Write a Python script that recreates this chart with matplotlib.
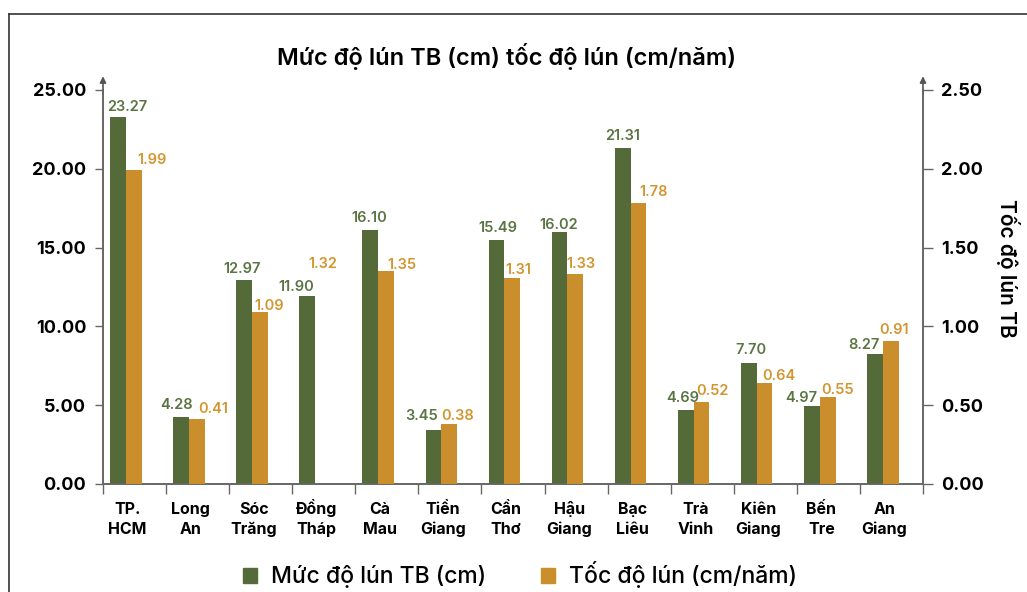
import numpy as np
import matplotlib
matplotlib.use('Agg')
import matplotlib.pyplot as plt
import matplotlib.transforms as mtransforms
from matplotlib.lines import Line2D
from matplotlib.patches import Patch

plt.rcParams['font.family'] = ['Inter', 'DejaVu Sans']

# data
provinces = ['TP.\nHCM', 'Long\nAn', 'Sóc\nTrăng', 'Đồng\nTháp', 'Cà\nMau', 'Tiền\nGiang',
             'Cần\nThơ', 'Hậu\nGiang', 'Bạc\nLiêu', 'Trà\nVinh', 'Kiên\nGiang', 'Bến\nTre',
             'An\nGiang']
depth_cm = [23.27, 4.28, 12.97, 11.90, 16.10, 3.45, 15.49, 16.02, 21.31, 4.69, 7.70, 4.97, 8.27]
rate_cm_year = [1.99, 0.41, 1.09, 1.32, 1.35, 0.38, 1.31, 1.33, 1.78, 0.52, 0.64, 0.55, 0.91]
rate_bar_hidden = ['Đồng\nTháp']  # no bar drawn in the original, only its label

left_ticks = [0, 5, 10, 15, 20, 25]
right_ticks = [0, 0.5, 1.0, 1.5, 2.0, 2.5]

# label nudges in pixels (dx, dy) - labels were hand placed in the original
depth_dx = [9, -5, -2, -11, -1, -12, 1, -1, 0, -3, 2, -11, -11]
depth_dy = [10, 12, 11, 9, 12, 14, 12, 7, 12, 12, 13, 8, 9]
rate_dx = [18, 16, 9, 0, 16, 8, 6, 6, 15, 11, 14, 10, 3]
rate_dy = [10, 10, 6, 12, 6, 8, 8, 10, 11, 11, 7, 7, 11]

green = '#546b39'
orange = '#cb8e2c'
green_txt = '#5b7443'
orange_txt = '#d3962f'
axis_col = '#666666'

W, H = 1027, 592
fig = plt.figure(figsize=(W / 100, H / 100), dpi=100)
ax = fig.add_axes([103 / W, 1 - 484 / H, 820 / W, 394 / H])
ax2 = ax.twinx()

x = np.arange(len(provinces))
bw = 0.25
ax.bar(x - 0.262, depth_cm, bw, color=green, zorder=3)
rate_show = [np.nan if p in rate_bar_hidden else r for p, r in zip(provinces, rate_cm_year)]
ax2.bar(x - 0.012, rate_show, bw, color=orange, zorder=3)

px = 0.72  # pixels -> points
for i, v in enumerate(depth_cm):
    ax.annotate(f'{v:.2f}', xy=(x[i] - 0.262, v), xytext=(depth_dx[i] * px, depth_dy[i] * px),
                textcoords='offset points', ha='center', va='center',
                fontsize=10.5, fontweight='semibold', color=green_txt)
for i, v in enumerate(rate_cm_year):
    ax2.annotate(f'{v:.2f}', xy=(x[i] - 0.012, v), xytext=(rate_dx[i] * px, rate_dy[i] * px),
                 textcoords='offset points', ha='center', va='center',
                 fontsize=10.5, fontweight='semibold', color=orange_txt)

ax.set_xlim(-0.5, len(provinces) - 0.5)
ax.set_ylim(0, 25)
ax2.set_ylim(0, 2.5)

ax.set_yticks(left_ticks)
ax.set_yticklabels([f'{t:.2f}' for t in left_ticks])
ax2.set_yticks(right_ticks)
ax2.set_yticklabels([f'{t:.2f}' for t in right_ticks])

# category boundaries as ticks
ax.set_xticks(np.arange(len(provinces) + 1) - 0.5)
ax.set_xticklabels([])
ax.tick_params(axis='x', which='major', length=7, color=axis_col, width=1)

# category names: each line on its own baseline so accents don't shift rows
trans = mtransforms.blended_transform_factory(ax.transData, fig.transFigure)
for i, name in enumerate(provinces):
    for k, line in enumerate(name.split('\n')):
        ax.text(x[i] - 0.11, 1 - (514 + 20 * k) / H, line, transform=trans,
                ha='center', va='baseline', fontsize=11.5, fontweight='bold')

ax.tick_params(axis='y', length=6, color=axis_col, width=1, labelsize=13, pad=6)
ax2.tick_params(axis='y', length=7, color=axis_col, width=1, labelsize=13, pad=6)
for lab in ax.get_yticklabels() + ax2.get_yticklabels():
    lab.set_fontweight('bold')

for a in (ax, ax2):
    a.spines['top'].set_visible(False)
    for s in ('left', 'right', 'bottom'):
        a.spines[s].set_color(axis_col)
        a.spines[s].set_linewidth(1.2)

# arrow tips on both value axes
for xa in (0, 1):
    ax.annotate('', xy=(xa, 1.035), xytext=(xa, 0.99), xycoords='axes fraction',
                arrowprops=dict(arrowstyle='-|>', color='#555555', lw=1.2, mutation_scale=9,
                                shrinkA=0, shrinkB=0))

fig.text(507 / W, 1 - 56 / H, 'Mức độ lún TB (cm) tốc độ lún (cm/năm)', ha='center', va='center',
         fontsize=17, fontweight='semibold')
fig.text(1008 / W, 1 - 268 / H, 'Tốc độ lún TB', rotation=270, ha='center', va='center',
         fontsize=15, fontweight='semibold')

handles = [Patch(color=green, label='Mức độ lún TB (cm)'),
           Patch(color=orange, label='Tốc độ lún (cm/năm)')]
fig.legend(handles=handles, loc='center', bbox_to_anchor=(520 / W, 1 - 575 / H), ncol=2,
           frameon=False, prop={'size': 16.5, 'weight': 'medium'}, handlelength=0.6,
           handleheight=0.6, handletextpad=0.6, columnspacing=2.4)

# frame of the original picture
fig.add_artist(Line2D([9 / W, 1], [1 - 14 / H, 1 - 14 / H], color='#333333', lw=1.2))
fig.add_artist(Line2D([9 / W, 9 / W], [0, 1 - 14 / H], color='#333333', lw=1.2))

fig.savefig('out.png', dpi=100)
